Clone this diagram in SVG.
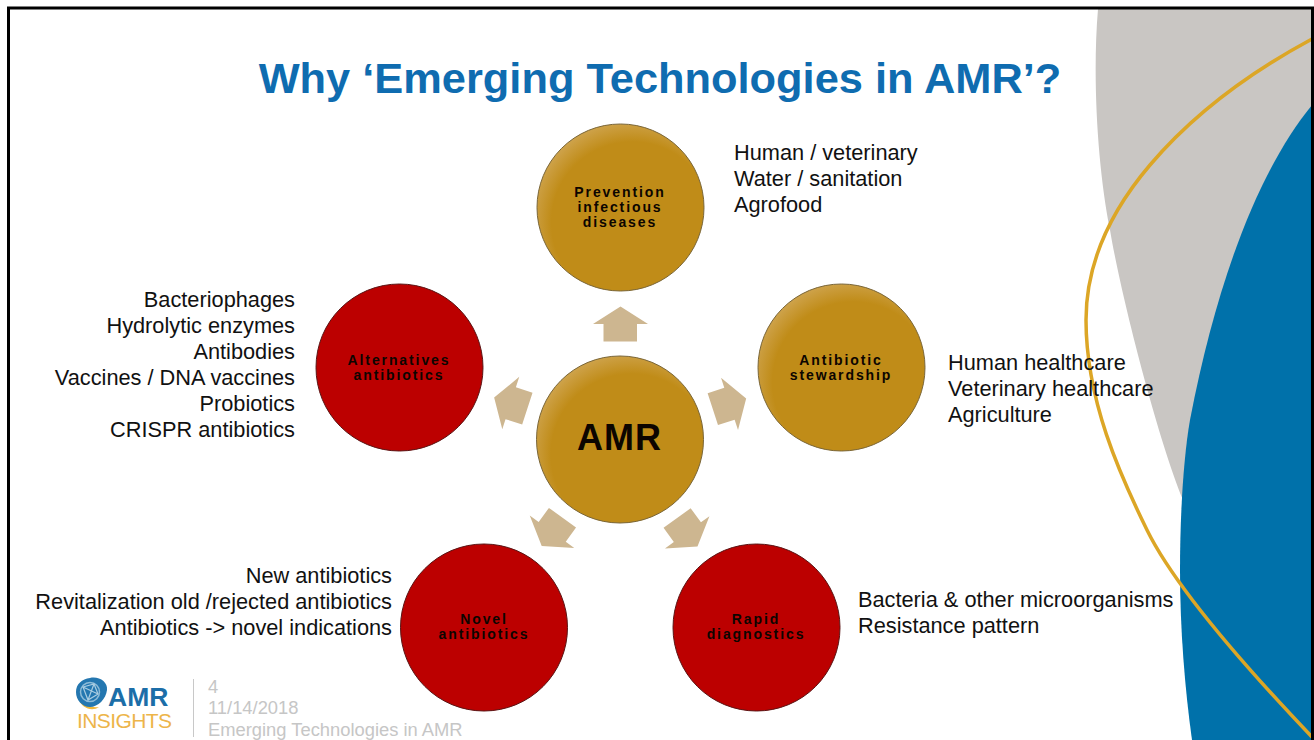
<svg xmlns="http://www.w3.org/2000/svg" width="1314" height="740" viewBox="0 0 1314 740">
<style>
text{font-family:"Liberation Sans",Arial,sans-serif}
.t{font-size:21.75px;fill:#111}
.l{font-size:14px;font-weight:bold;letter-spacing:1.9px;text-anchor:middle;fill:#0c0500}
.e{text-anchor:end}
.f{font-size:18.35px;fill:#c6c6c6}
.gold{fill:url(#gg);stroke:#7a6638;stroke-width:1}
.red{fill:#bc0000;stroke:#5a1414;stroke-width:1}
.arrow{fill:#cdb690}
</style>
<defs>
<radialGradient id="gg" cx="0.57" cy="0.59" r="0.62">
<stop offset="0.78" stop-color="#c08c18"/><stop offset="1" stop-color="#cfa44e"/>
</radialGradient>
<polygon id="arr" points="620.5,306.5 648,324 637,324 637,341.5 603.5,341.5 603.5,324 593,324"/>
</defs>
<rect width="1314" height="740" fill="#fff"/>
<g id="background">
<path d="M1098,9 C1092,80 1098,170 1110,230 C1120,290 1155,430 1183,500 L1312,500 L1312,9Z" fill="#c9c6c3"/>
<path d="M1312,105 C1255,175 1215,290 1190,420 C1183,460 1180,520 1180,570 C1180,630 1185,690 1192,740 L1312,740Z" fill="#0071aa"/>
<path d="M1312,39 C1245,75 1190,118 1150,165 C1110,212 1086,262 1086,320 C1086,400 1120,475 1147,530 C1175,587 1250,672 1312,737" fill="none" stroke="#dca626" stroke-width="3.5"/>
</g>
<rect x="8.500" y="8" width="1304" height="740" fill="none" stroke="#000" stroke-width="3"/>
<g id="title"><text x="660" y="93" text-anchor="middle" font-size="43.400" font-weight="bold" fill="#0f6cb0">Why ‘Emerging Technologies in AMR’?</text></g>
<g id="connectors" class="arrow">
<use href="#arr"/>
<use href="#arr" transform="rotate(72 620 439)"/>
<use href="#arr" transform="rotate(144 620 439)"/>
<use href="#arr" transform="rotate(216 620 439)"/>
<use href="#arr" transform="rotate(288 620 439)"/>
</g>
<g id="node-amr"><circle class="gold" cx="620" cy="439.500" r="83.500"/><text x="619.500" y="450" text-anchor="middle" font-size="36" font-weight="bold" letter-spacing="1" fill="#0c0500">AMR</text></g>
<g id="node-prevention"><circle class="gold" cx="620.500" cy="207.500" r="83.500"/><text class="l"><tspan x="620" y="197">Prevention</tspan><tspan x="620" y="212">infectious</tspan><tspan x="620" y="227">diseases</tspan></text></g>
<g id="node-stewardship"><circle class="gold" cx="841.500" cy="367.500" r="83.500"/><text class="l"><tspan x="841" y="365">Antibiotic</tspan><tspan x="841" y="380">stewardship</tspan></text></g>
<g id="node-alternatives"><circle class="red" cx="399.500" cy="367.500" r="83.500"/><text class="l"><tspan x="399" y="365">Alternatives</tspan><tspan x="399" y="380">antibiotics</tspan></text></g>
<g id="node-novel"><circle class="red" cx="484" cy="627.500" r="83.500"/><text class="l"><tspan x="484" y="624">Novel</tspan><tspan x="484" y="639">antibiotics</tspan></text></g>
<g id="node-rapid"><circle class="red" cx="756.500" cy="627.500" r="83.500"/><text class="l"><tspan x="756" y="624">Rapid</tspan><tspan x="756" y="639">diagnostics</tspan></text></g>
<g id="labels">
<text class="t"><tspan x="734" y="160">Human / veterinary</tspan><tspan x="734" y="186">Water / sanitation</tspan><tspan x="734" y="212">Agrofood</tspan></text>
<text class="t"><tspan x="948" y="370">Human healthcare</tspan><tspan x="948" y="396">Veterinary healthcare</tspan><tspan x="948" y="422">Agriculture</tspan></text>
<text class="t"><tspan x="858" y="607">Bacteria &amp; other microorganisms</tspan><tspan x="858" y="633">Resistance pattern</tspan></text>
<text class="t e"><tspan x="295" y="307">Bacteriophages</tspan><tspan x="295" y="333">Hydrolytic enzymes</tspan><tspan x="295" y="359">Antibodies</tspan><tspan x="295" y="385">Vaccines / DNA vaccines</tspan><tspan x="295" y="411">Probiotics</tspan><tspan x="295" y="437">CRISPR antibiotics</tspan></text>
<text class="t e"><tspan x="392" y="583">New antibiotics</tspan><tspan x="392" y="609">Revitalization old /rejected antibiotics</tspan><tspan x="392" y="635">Antibiotics -&gt; novel indications</tspan></text>
</g>
<g id="footer">
<line x1="193.500" y1="679" x2="193.500" y2="737" stroke="#c8c8c8"/>
<text class="f"><tspan x="208" y="693">4</tspan><tspan x="208" y="714">11/14/2018</tspan><tspan x="208" y="736">Emerging Technologies in AMR</tspan></text>
</g>
<g id="logo">
<path d="M79,699 C81,708 92,712 99,707 C91,708 84,705 79,699Z" fill="#f0b83a"/>
<path d="M90,678 C99,676 108,682 107,690 C106,699 98,707 90,707 C82,707 76,700 76,692 C76,684 82,679 90,678Z" fill="#2477b0"/>
<circle cx="90" cy="692" r="9.500" fill="none" stroke="#8fbcd8" stroke-width="1.500"/>
<path d="M83,687 L94,684 L98,694 L88,700 Z M83,687 L98,694 M94,684 L88,700" fill="none" stroke="#a9cde2" stroke-width="1.200"/>
<text x="108" y="706" font-size="26.500" font-weight="bold" fill="#1c6ea8">AMR</text>
<text x="77" y="728" font-size="21" letter-spacing="-0.600" fill="#edb54a">INSIGHTS</text>
</g>
</svg>
